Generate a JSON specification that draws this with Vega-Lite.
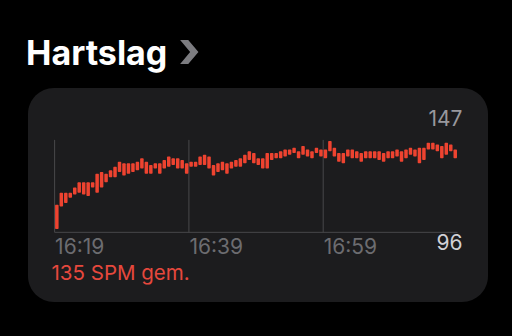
{
  "$schema": "https://vega.github.io/schema/vega-lite/v6.json",
  "width": 460,
  "height": 214,
  "autosize": "none",
  "padding": {"left": 28, "top": 88, "right": 24, "bottom": 34},
  "background": "#000000",
  "config": {
    "font": "Inter",
    "view": {"fill": "#1c1c1e", "stroke": null, "cornerRadius": 26}
  },
  "title": {
    "text": "Hartslag",
    "anchor": "start",
    "frame": "group",
    "fontSize": 34,
    "fontWeight": "bold",
    "color": "#ffffff",
    "font": "Inter",
    "offset": 14,
    "dy": 61,
    "dx": -2
  },
  "datasets": {
    "grid": [
      {"t": "2024-01-01T16:19:00", "lo": 94, "hi": 147.6},
      {"t": "2024-01-01T16:39:00", "lo": 94, "hi": 147.6},
      {"t": "2024-01-01T16:59:00", "lo": 94, "hi": 147.6}
    ],
    "base": [
      {"t": "2024-01-01T16:19:00", "t2": "2024-01-01T17:19:00", "lo": 94, "hi": 94}
    ],
    "hr": [
      {"t": "2024-01-01T16:19:20", "lo": 96, "hi": 110},
      {"t": "2024-01-01T16:20:00", "lo": 109, "hi": 117},
      {"t": "2024-01-01T16:20:40", "lo": 111, "hi": 117},
      {"t": "2024-01-01T16:21:20", "lo": 114, "hi": 117},
      {"t": "2024-01-01T16:22:00", "lo": 116, "hi": 120},
      {"t": "2024-01-01T16:22:40", "lo": 117, "hi": 123},
      {"t": "2024-01-01T16:23:20", "lo": 116, "hi": 123},
      {"t": "2024-01-01T16:24:00", "lo": 115, "hi": 123},
      {"t": "2024-01-01T16:24:40", "lo": 120, "hi": 123},
      {"t": "2024-01-01T16:25:20", "lo": 117, "hi": 128},
      {"t": "2024-01-01T16:26:00", "lo": 120, "hi": 129},
      {"t": "2024-01-01T16:26:40", "lo": 123, "hi": 128},
      {"t": "2024-01-01T16:27:20", "lo": 126, "hi": 130},
      {"t": "2024-01-01T16:28:00", "lo": 126, "hi": 132},
      {"t": "2024-01-01T16:28:40", "lo": 129, "hi": 135},
      {"t": "2024-01-01T16:29:20", "lo": 127, "hi": 134},
      {"t": "2024-01-01T16:30:00", "lo": 128, "hi": 134},
      {"t": "2024-01-01T16:30:40", "lo": 129, "hi": 134},
      {"t": "2024-01-01T16:31:20", "lo": 130, "hi": 135},
      {"t": "2024-01-01T16:32:00", "lo": 131, "hi": 137},
      {"t": "2024-01-01T16:32:40", "lo": 128, "hi": 135},
      {"t": "2024-01-01T16:33:20", "lo": 128, "hi": 133},
      {"t": "2024-01-01T16:34:00", "lo": 131, "hi": 134},
      {"t": "2024-01-01T16:34:40", "lo": 128, "hi": 134},
      {"t": "2024-01-01T16:35:20", "lo": 131, "hi": 136},
      {"t": "2024-01-01T16:36:00", "lo": 132, "hi": 138},
      {"t": "2024-01-01T16:36:40", "lo": 133, "hi": 137},
      {"t": "2024-01-01T16:37:20", "lo": 131, "hi": 137},
      {"t": "2024-01-01T16:38:00", "lo": 131, "hi": 136},
      {"t": "2024-01-01T16:38:40", "lo": 128, "hi": 134},
      {"t": "2024-01-01T16:39:20", "lo": 132, "hi": 135},
      {"t": "2024-01-01T16:40:00", "lo": 132, "hi": 135},
      {"t": "2024-01-01T16:40:40", "lo": 133, "hi": 138},
      {"t": "2024-01-01T16:41:20", "lo": 133, "hi": 139},
      {"t": "2024-01-01T16:42:00", "lo": 131, "hi": 138},
      {"t": "2024-01-01T16:42:40", "lo": 127, "hi": 133},
      {"t": "2024-01-01T16:43:20", "lo": 129, "hi": 134},
      {"t": "2024-01-01T16:44:00", "lo": 130, "hi": 135},
      {"t": "2024-01-01T16:44:40", "lo": 128, "hi": 134},
      {"t": "2024-01-01T16:45:20", "lo": 131, "hi": 135},
      {"t": "2024-01-01T16:46:00", "lo": 132, "hi": 136},
      {"t": "2024-01-01T16:46:40", "lo": 132, "hi": 137},
      {"t": "2024-01-01T16:47:20", "lo": 134, "hi": 139},
      {"t": "2024-01-01T16:48:00", "lo": 136, "hi": 141},
      {"t": "2024-01-01T16:48:40", "lo": 134, "hi": 140},
      {"t": "2024-01-01T16:49:20", "lo": 133, "hi": 137},
      {"t": "2024-01-01T16:50:00", "lo": 131, "hi": 137},
      {"t": "2024-01-01T16:50:40", "lo": 131, "hi": 140},
      {"t": "2024-01-01T16:51:20", "lo": 136, "hi": 140},
      {"t": "2024-01-01T16:52:00", "lo": 137, "hi": 140},
      {"t": "2024-01-01T16:52:40", "lo": 137, "hi": 141},
      {"t": "2024-01-01T16:53:20", "lo": 138, "hi": 142},
      {"t": "2024-01-01T16:54:00", "lo": 139, "hi": 142},
      {"t": "2024-01-01T16:54:40", "lo": 140, "hi": 143},
      {"t": "2024-01-01T16:55:20", "lo": 137, "hi": 141},
      {"t": "2024-01-01T16:56:00", "lo": 139, "hi": 144},
      {"t": "2024-01-01T16:56:40", "lo": 138, "hi": 142},
      {"t": "2024-01-01T16:57:20", "lo": 137, "hi": 141},
      {"t": "2024-01-01T16:58:00", "lo": 140, "hi": 143},
      {"t": "2024-01-01T16:58:40", "lo": 138, "hi": 142},
      {"t": "2024-01-01T16:59:20", "lo": 137, "hi": 142},
      {"t": "2024-01-01T17:00:00", "lo": 141, "hi": 147},
      {"t": "2024-01-01T17:00:40", "lo": 138, "hi": 143},
      {"t": "2024-01-01T17:01:20", "lo": 135, "hi": 140},
      {"t": "2024-01-01T17:02:00", "lo": 134, "hi": 140},
      {"t": "2024-01-01T17:02:40", "lo": 138, "hi": 142},
      {"t": "2024-01-01T17:03:20", "lo": 137, "hi": 142},
      {"t": "2024-01-01T17:04:00", "lo": 137, "hi": 141},
      {"t": "2024-01-01T17:04:40", "lo": 135, "hi": 140},
      {"t": "2024-01-01T17:05:20", "lo": 137, "hi": 141},
      {"t": "2024-01-01T17:06:00", "lo": 137, "hi": 141},
      {"t": "2024-01-01T17:06:40", "lo": 137, "hi": 141},
      {"t": "2024-01-01T17:07:20", "lo": 136, "hi": 141},
      {"t": "2024-01-01T17:08:00", "lo": 135, "hi": 140},
      {"t": "2024-01-01T17:08:40", "lo": 137, "hi": 141},
      {"t": "2024-01-01T17:09:20", "lo": 137, "hi": 141},
      {"t": "2024-01-01T17:10:00", "lo": 138, "hi": 142},
      {"t": "2024-01-01T17:10:40", "lo": 135, "hi": 141},
      {"t": "2024-01-01T17:11:20", "lo": 137, "hi": 142},
      {"t": "2024-01-01T17:12:00", "lo": 139, "hi": 143},
      {"t": "2024-01-01T17:12:40", "lo": 138, "hi": 142},
      {"t": "2024-01-01T17:13:20", "lo": 134, "hi": 143},
      {"t": "2024-01-01T17:14:00", "lo": 136, "hi": 143},
      {"t": "2024-01-01T17:14:40", "lo": 142, "hi": 146},
      {"t": "2024-01-01T17:15:20", "lo": 142, "hi": 146},
      {"t": "2024-01-01T17:16:00", "lo": 141, "hi": 145},
      {"t": "2024-01-01T17:16:40", "lo": 137, "hi": 144},
      {"t": "2024-01-01T17:17:20", "lo": 139, "hi": 146},
      {"t": "2024-01-01T17:18:00", "lo": 141, "hi": 145},
      {"t": "2024-01-01T17:18:40", "lo": 137, "hi": 142}
    ]
  },
  "encoding": {
    "x": {
      "field": "t",
      "type": "temporal",
      "scale": {
        "domain": [
          {"year": 2024, "month": 1, "date": 1, "hours": 16, "minutes": 15, "seconds": 47},
          {"year": 2024, "month": 1, "date": 1, "hours": 17, "minutes": 22, "seconds": 48}
        ],
        "nice": false
      },
      "axis": {
        "values": [
          {"year": 2024, "month": 1, "date": 1, "hours": 16, "minutes": 19},
          {"year": 2024, "month": 1, "date": 1, "hours": 16, "minutes": 39},
          {"year": 2024, "month": 1, "date": 1, "hours": 16, "minutes": 59}
        ],
        "format": "%H:%M",
        "offset": -66,
        "domain": false,
        "ticks": false,
        "tickSize": 0,
        "grid": false,
        "labelAlign": "left",
        "labelBaseline": "top",
        "labelPadding": 0,
        "labelFontSize": 21,
        "labelColor": "#6c6c70",
        "labelFlush": false,
        "labelOverlap": false,
        "title": "135 SPM gem.",
        "titleColor": "#e6483d",
        "titleFontSize": 20.5,
        "titleFontWeight": "normal",
        "titleAlign": "left",
        "titleBaseline": "alphabetic",
        "titleX": 23,
        "titleY": 43
      }
    },
    "y": {
      "field": "lo",
      "type": "quantitative",
      "scale": {"domain": [53.6, 177.7], "nice": false, "zero": false},
      "axis": {
        "orient": "right",
        "values": [96, 147],
        "offset": -26,
        "domain": false,
        "ticks": false,
        "tickSize": 0,
        "grid": false,
        "labelAlign": "right",
        "labelBaseline": "middle",
        "labelPadding": 0,
        "labelFontSize": 21,
        "labelFlush": false,
        "labelOverlap": false,
        "labelColor": {"condition": {"test": "datum.value > 120", "value": "#98989d"}, "value": "#d1d1d6"},
        "labelOffset": {"condition": {"test": "datum.value > 120", "value": -21}, "value": 15},
        "title": "›",
        "titleAngle": 0,
        "titleAlign": "center",
        "titleBaseline": "middle",
        "titleFontSize": 52,
        "titleFontWeight": "bold",
        "titleColor": "#7c7c80",
        "titleX": -273,
        "titleY": -37
      }
    },
    "y2": {"field": "hi"}
  },
  "layer": [
    {"data": {"name": "grid"}, "mark": {"type": "rule", "color": "#48484a", "strokeWidth": 1}},
    {"data": {"name": "base"}, "mark": {"type": "rule", "color": "#48484a", "strokeWidth": 1}, "encoding": {"x2": {"field": "t2"}}},
    {"data": {"name": "hr"}, "mark": {"type": "bar", "width": 3.5, "color": "#ee4330", "cornerRadius": 1}}
  ]
}
